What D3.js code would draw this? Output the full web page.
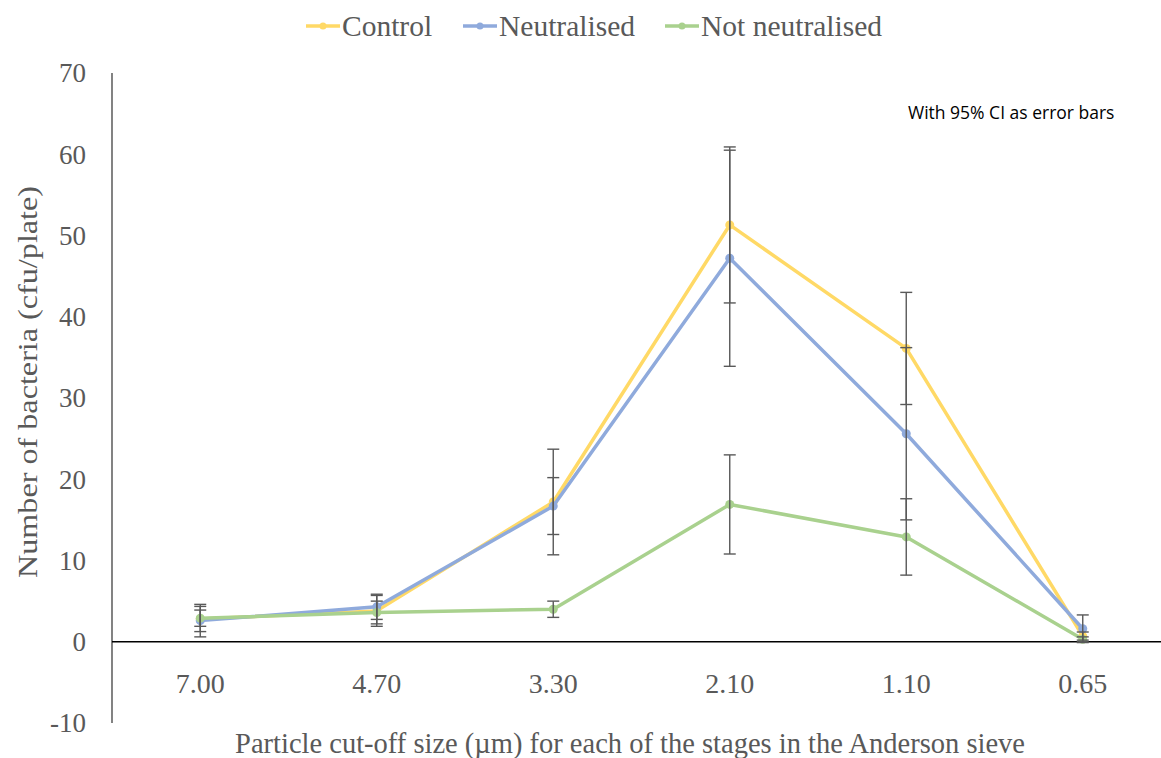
<!DOCTYPE html>
<html><head><meta charset="utf-8">
<script src="https://cdn.jsdelivr.net/npm/d3@7"></script>
<style>html,body{margin:0;padding:0;background:#fff;}</style>
</head><body>
<svg id="chart" width="1161" height="758"></svg>
<script>
const categories = ["7.00","4.70","3.30","2.10","1.10","0.65"];
const seriesNames = ["Control","Neutralised","Not neutralised"];
const control = [2.8, 3.8, 17.2, 51.3, 36.1, 0.7];
const controlCI = [1.55, 1.9, 6.5, 9.6, 6.9, 0.5];
const neutralised = [2.6, 4.3, 16.7, 47.2, 25.6, 1.6];
const neutralisedCI = [2.0, 1.55, 3.5, 13.3, 10.6, 1.7];
const notNeutralised = [2.9, 3.6, 4.0, 16.9, 12.9, 0.3];
const notNeutralisedCI = [1.0, 1.4, 1.0, 6.1, 4.7, 0.3];
const yTicks = [-10,0,10,20,30,40,50,60,70];
const colors = ["#FFD966","#8FAADC","#A9D18E"];

const series = [
  {name: seriesNames[0], values: control, ci: controlCI, color: colors[0]},
  {name: seriesNames[1], values: neutralised, ci: neutralisedCI, color: colors[1]},
  {name: seriesNames[2], values: notNeutralised, ci: notNeutralisedCI, color: colors[2]}
];

const svg = d3.select("#chart");
const plotLeft = 112, plotRight = 1171, plotTop = 73, plotBottom = 723;
const x = d3.scaleBand().domain(categories).range([plotLeft, plotRight]);
const y = d3.scaleLinear().domain([-10, 70]).range([plotBottom, plotTop]);
const serif = "'Liberation Serif','Times New Roman',serif";
const grey = "#595959";

// y axis
svg.append("line").attr("x1", plotLeft).attr("x2", plotLeft).attr("y1", y(70)).attr("y2", y(-10))
  .attr("stroke", "#404040").attr("stroke-width", 1.3);
svg.selectAll("text.ytick").data(yTicks).enter().append("text")
  .attr("class","ytick").attr("x", 86).attr("y", d => y(d)).attr("dy","0.35em")
  .attr("text-anchor","end").attr("font-family", serif).attr("font-size", 27)
  .attr("fill", grey).text(d => d);

// zero line (x axis)
svg.append("line").attr("x1", plotLeft).attr("x2", plotRight).attr("y1", y(0)).attr("y2", y(0))
  .attr("stroke", "#000").attr("stroke-width", 1.3);

// x tick labels
svg.selectAll("text.xtick").data(categories).enter().append("text")
  .attr("class","xtick").attr("x", d => x(d) + x.bandwidth()/2).attr("y", 683).attr("dy","0.35em")
  .attr("text-anchor","middle").attr("font-family", serif).attr("font-size", 28)
  .attr("fill", grey).text(d => d);

// axis titles
svg.append("text").attr("x", 630).attr("y", 743).attr("dy","0.35em").attr("text-anchor","middle")
  .attr("font-family", serif).attr("font-size", 28.5).attr("fill", grey)
  .text("Particle cut-off size (µm) for each of the stages in the Anderson sieve");
svg.append("text").attr("transform", "translate(27," + 382 + ") rotate(-90)")
  .attr("dy","0.35em").attr("text-anchor","middle")
  .attr("font-family", serif).attr("font-size", 28).attr("fill", grey)
  .attr("textLength", 392).attr("lengthAdjust", "spacingAndGlyphs")
  .text("Number of bacteria (cfu/plate)");

// annotation
svg.append("text").attr("x", 908).attr("y", 113).attr("dy","0.35em")
  .attr("font-family","'Open Sans','Noto Sans',sans-serif").attr("font-size", 17.5)
  .attr("fill", "#000").text("With 95% CI as error bars");

const cx = d => x(d) + x.bandwidth()/2;
const line = d3.line().x(d => cx(d.cat)).y(d => y(d.v));

// lines + markers
series.forEach(s => {
  const pts = categories.map((c, i) => ({cat: c, v: s.values[i], e: s.ci[i]}));
  svg.append("path").datum(pts).attr("d", line).attr("fill","none")
    .attr("stroke", s.color).attr("stroke-width", 3.5).attr("stroke-linejoin","round");
  svg.selectAll(null).data(pts).enter().append("circle")
    .attr("cx", d => cx(d.cat)).attr("cy", d => y(d.v)).attr("r", 4.5).attr("fill", s.color);
});

// error bars
series.forEach(s => {
  const pts = categories.map((c, i) => ({cat: c, v: s.values[i], e: s.ci[i]}));
  const g = svg.append("g").attr("stroke", grey).attr("stroke-width", 1.4);
  g.selectAll(null).data(pts).enter().append("line")
    .attr("x1", d => cx(d.cat)).attr("x2", d => cx(d.cat))
    .attr("y1", d => y(d.v - d.e)).attr("y2", d => y(d.v + d.e));
  g.selectAll(null).data(pts).enter().append("line")
    .attr("x1", d => cx(d.cat) - 6).attr("x2", d => cx(d.cat) + 6)
    .attr("y1", d => y(d.v + d.e)).attr("y2", d => y(d.v + d.e));
  g.selectAll(null).data(pts).enter().append("line")
    .attr("x1", d => cx(d.cat) - 6).attr("x2", d => cx(d.cat) + 6)
    .attr("y1", d => y(d.v - d.e)).attr("y2", d => y(d.v - d.e));
});

// legend
const legendX = [306, 463, 665];
const lg = svg.append("g");
series.forEach((s, i) => {
  const gx = legendX[i];
  lg.append("line").attr("x1", gx).attr("x2", gx + 34).attr("y1", 26).attr("y2", 26)
    .attr("stroke", s.color).attr("stroke-width", 3.5);
  lg.append("circle").attr("cx", gx + 17).attr("cy", 26).attr("r", 3.5).attr("fill", s.color);
  lg.append("text").attr("x", gx + 36).attr("y", 26).attr("dy","0.35em")
    .attr("font-family", serif).attr("font-size", 29.5).attr("fill", grey).text(s.name);
});
</script>
</body></html>
